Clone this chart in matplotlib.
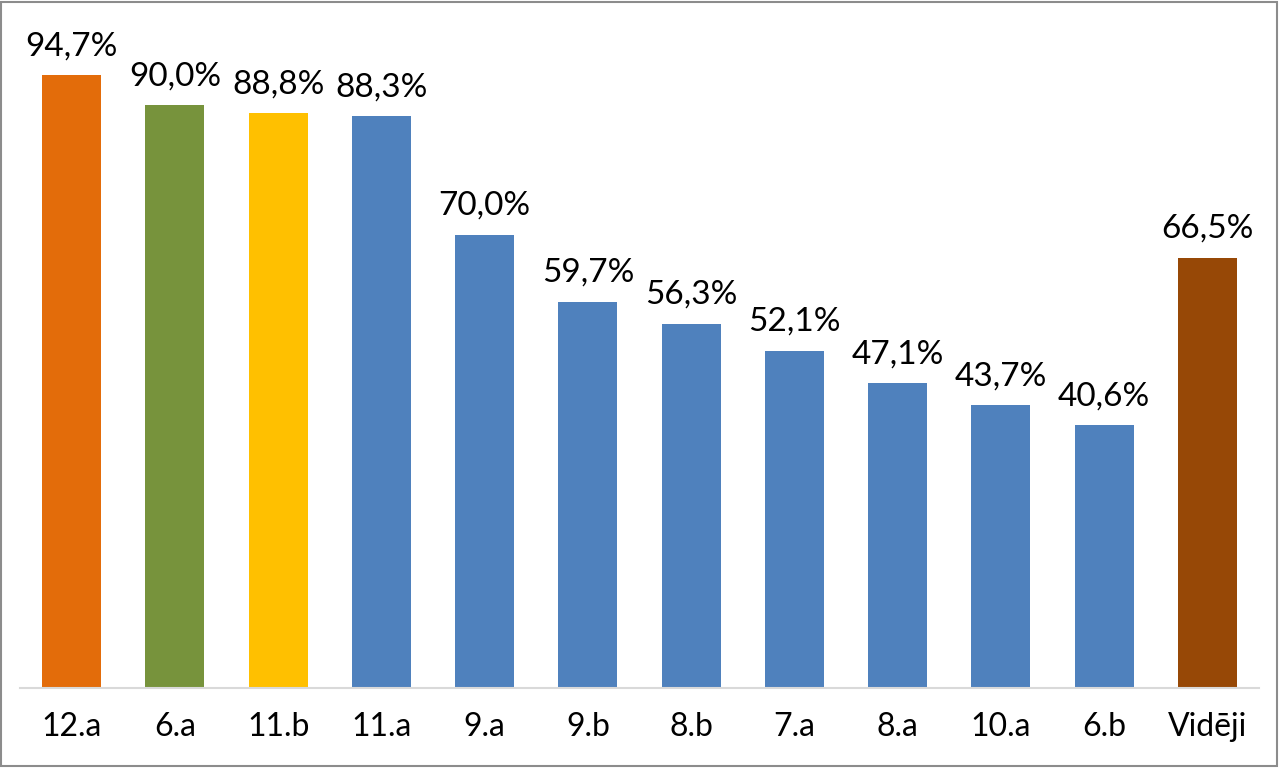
import matplotlib.pyplot as plt
from matplotlib.patches import Rectangle

classes = ['12.a', '6.a', '11.b', '11.a', '9.a', '9.b', '8.b', '7.a', '8.a', '10.a', '6.b', 'Vidēji']
values = [94.7, 90.0, 88.8, 88.3, 70.0, 59.7, 56.3, 52.1, 47.1, 43.7, 40.6, 66.5]
colors = ['#E36C0A', '#77933C', '#FFC000'] + ['#4F81BD'] * 8 + ['#974806']

plt.rcParams['font.family'] = ['Lato', 'DejaVu Sans']

fig = plt.figure(figsize=(12.8, 7.68), dpi=100)
ax = fig.add_axes([20 / 1280, 80 / 768, 1239 / 1280, 647.3 / 768])

x = range(len(classes))
bars = ax.bar(x, values, width=0.57, color=colors)

for bar, v in zip(bars, values):
    ax.annotate(f'{v:.1f}%'.replace('.', ','),
                (bar.get_x() + bar.get_width() / 2, v),
                xytext=(0, 10), textcoords='offset points',
                ha='center', va='bottom', fontsize=24)

ax.set_xlim(-0.5, len(classes) - 0.5)
ax.set_ylim(0, 100)
ax.set_xticks(list(x))
ax.set_xticklabels(classes, fontsize=23)
ax.tick_params(axis='x', length=0, pad=17)
ax.set_yticks([])
for side in ['top', 'right', 'left']:
    ax.spines[side].set_visible(False)
ax.spines['bottom'].set_color('#d9d9d9')
ax.spines['bottom'].set_linewidth(1.5)

# outer border of the chart
fig.patches.append(Rectangle((0.001, 0.002), 0.997, 0.996, transform=fig.transFigure,
                             fill=False, edgecolor='#8c8c8c', linewidth=1.5))

fig.savefig('out.png', dpi=100)
